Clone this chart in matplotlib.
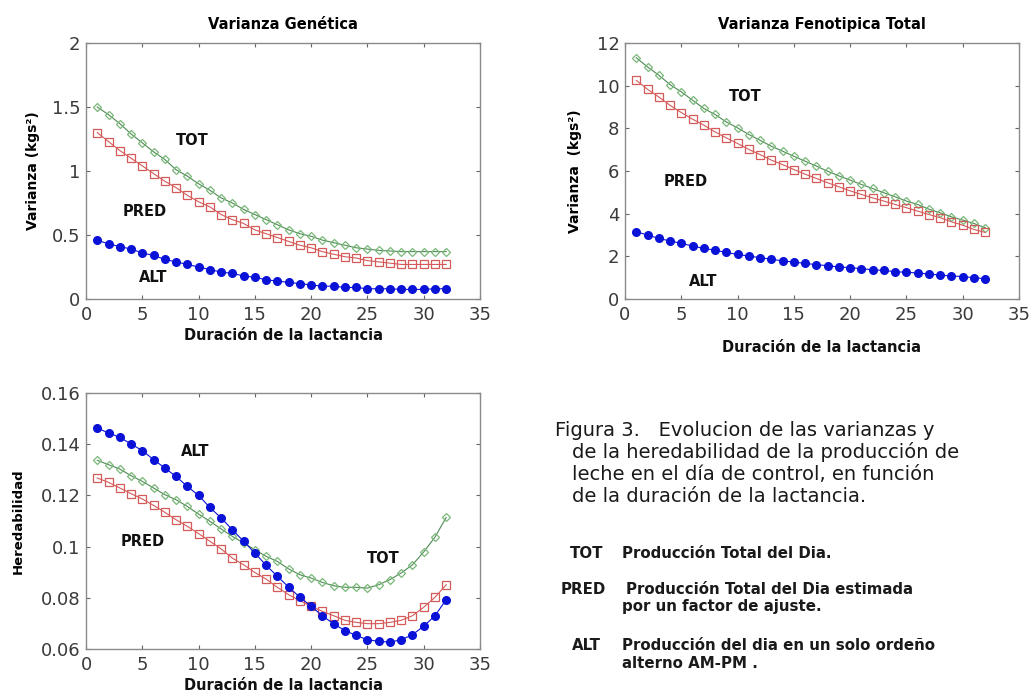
import matplotlib
matplotlib.use("Agg")
import matplotlib.pyplot as plt
from matplotlib.ticker import FuncFormatter, MultipleLocator

plt.rcParams['font.family'] = ['DejaVu Sans']

dias = list(range(1, 33))

# Varianza Genetica
gen_tot = [1.50, 1.44, 1.37, 1.29, 1.22, 1.15, 1.09, 1.01, 0.96, 0.90, 0.85, 0.79, 0.75, 0.70,
           0.66, 0.62, 0.58, 0.54, 0.51, 0.49, 0.46, 0.44, 0.42, 0.40, 0.39, 0.38, 0.375, 0.37,
           0.37, 0.37, 0.37, 0.37]
gen_pred = [1.30, 1.23, 1.16, 1.10, 1.04, 0.98, 0.92, 0.87, 0.81, 0.76, 0.72, 0.66, 0.62, 0.59,
            0.54, 0.51, 0.48, 0.45, 0.42, 0.40, 0.37, 0.35, 0.33, 0.32, 0.30, 0.29, 0.28, 0.27,
            0.27, 0.27, 0.27, 0.27]
gen_alt = [0.46, 0.43, 0.41, 0.39, 0.36, 0.34, 0.31, 0.29, 0.27, 0.25, 0.23, 0.21, 0.20, 0.18,
           0.17, 0.15, 0.14, 0.13, 0.12, 0.11, 0.10, 0.10, 0.09, 0.09, 0.08, 0.08, 0.08, 0.075,
           0.075, 0.075, 0.08, 0.08]

# Varianza Fenotipica Total
fen_tot = [11.31, 10.88, 10.49, 10.05, 9.71, 9.32, 8.93, 8.65, 8.30, 8.02, 7.71, 7.44, 7.16, 6.93,
           6.69, 6.46, 6.23, 5.99, 5.77, 5.57, 5.37, 5.18, 4.98, 4.79, 4.59, 4.43, 4.21, 4.04,
           3.85, 3.70, 3.54, 3.34]
fen_pred = [10.25, 9.83, 9.47, 9.08, 8.74, 8.43, 8.15, 7.83, 7.55, 7.29, 7.01, 6.77, 6.51, 6.30,
            6.07, 5.85, 5.65, 5.45, 5.26, 5.07, 4.90, 4.74, 4.59, 4.43, 4.28, 4.12, 3.96, 3.81,
            3.62, 3.46, 3.26, 3.12]
fen_alt = [3.15, 3.00, 2.84, 2.72, 2.61, 2.48, 2.37, 2.29, 2.18, 2.09, 2.01, 1.94, 1.86, 1.79,
           1.73, 1.67, 1.61, 1.56, 1.50, 1.47, 1.42, 1.37, 1.34, 1.28, 1.25, 1.22, 1.17, 1.12,
           1.08, 1.05, 1.00, 0.95]

# Heredabilidad
her_tot = [0.1337, 0.1320, 0.1303, 0.1277, 0.1255, 0.1229, 0.1203, 0.1183, 0.1157, 0.1127,
           0.1099, 0.1069, 0.1040, 0.1014, 0.0988, 0.0962, 0.0942, 0.0913, 0.0890, 0.0877,
           0.0860, 0.0847, 0.0841, 0.0841, 0.0838, 0.0851, 0.0871, 0.0897, 0.0929, 0.0979,
           0.1037, 0.1114]
her_pred = [0.1268, 0.1251, 0.1229, 0.1207, 0.1186, 0.1161, 0.1134, 0.1105, 0.1079, 0.1051,
            0.1021, 0.0991, 0.0955, 0.0929, 0.0899, 0.0873, 0.0841, 0.0812, 0.0789, 0.0767,
            0.0747, 0.0730, 0.0712, 0.0704, 0.0699, 0.0699, 0.0704, 0.0712, 0.0730, 0.0763,
            0.0802, 0.0851]
her_alt = [0.1463, 0.1444, 0.1427, 0.1401, 0.1375, 0.1340, 0.1307, 0.1274, 0.1235, 0.1200,
           0.1153, 0.1112, 0.1066, 0.1021, 0.0975, 0.0927, 0.0884, 0.0842, 0.0802, 0.0767,
           0.0730, 0.0698, 0.0672, 0.0653, 0.0636, 0.0630, 0.0627, 0.0636, 0.0656, 0.0689,
           0.0730, 0.0793]

W, H = 1030, 692
fig = plt.figure(figsize=(W / 100, H / 100), dpi=100)


def add_ax(x0, y0, x1, y1):
    return fig.add_axes([x0 / W, 1 - y1 / H, (x1 - x0) / W, (y1 - y0) / H])


GREEN_LINE = '#4f8a55'
GREEN = '#78b878'
RED = '#d55a5a'
BLUE = '#0a12d8'


def style(ax, ymin, ymax, ystep):
    ax.set_xlim(0, 35)
    ax.set_ylim(ymin, ymax)
    ax.xaxis.set_major_locator(MultipleLocator(5))
    ax.yaxis.set_major_locator(MultipleLocator(ystep))
    fmt = FuncFormatter(lambda v, p: ('%g' % round(v, 4)))
    ax.xaxis.set_major_formatter(fmt)
    ax.yaxis.set_major_formatter(fmt)
    ax.tick_params(direction='in', top=True, right=True, length=3, width=0.8,
                   color='#666666', labelsize=13, labelcolor='#3a3a3a')
    ax.tick_params(axis='x', pad=5)
    ax.tick_params(axis='y', pad=4)
    for s in ax.spines.values():
        s.set_color('#8a8a8a')
        s.set_linewidth(1.0)


def plot_series(ax, tot, pred, alt):
    ax.plot(dias, tot, '-', color=GREEN_LINE, lw=0.8, marker='D', ms=4,
            mfc='none', mec=GREEN, mew=0.9)
    ax.plot(dias, pred, '-', color=RED, lw=0.8, marker='s', ms=5.5,
            mfc='none', mec=RED, mew=0.9)
    ax.plot(dias, alt, '-', color=BLUE, lw=0.8, marker='o', ms=5.5,
            mfc=BLUE, mec=BLUE)


lab = dict(fontsize=10.5, fontweight='bold', ha='center', va='center', color='#111111')
axlab = dict(fontsize=10.5, fontweight='bold', color='#111111')

# Panel 1
ax1 = add_ax(86, 43, 480, 299)
plot_series(ax1, gen_tot, gen_pred, gen_alt)
style(ax1, 0, 2, 0.5)
ax1.set_title('Varianza Genética', fontsize=10.5, fontweight='bold', pad=10)
ax1.set_xlabel('Duración de la lactancia', **axlab)
ax1.set_ylabel('Varianza (kgs²)', fontsize=10, fontweight='bold')
ax1.xaxis.set_label_coords(0.5, -0.113)
ax1.yaxis.set_label_coords(-0.117, 0.5)
ax1.text(9.4, 1.24, 'TOT', **lab)
ax1.text(5.2, 0.68, 'PRED', **lab)
ax1.text(6.0, 0.17, 'ALT', **lab)

# Panel 2
ax2 = add_ax(625, 43, 1019, 299)
plot_series(ax2, fen_tot, fen_pred, fen_alt)
style(ax2, 0, 12, 2)
ax2.set_title('Varianza Fenotipica Total', fontsize=10.5, fontweight='bold', pad=10)
ax2.set_xlabel('Duración de la lactancia', **axlab)
ax2.set_ylabel('Varianza  (kgs²)', fontsize=10, fontweight='bold')
ax2.xaxis.set_label_coords(0.5, -0.16)
ax2.yaxis.set_label_coords(-0.109, 0.5)
ax2.text(10.7, 9.47, 'TOT', **lab)
ax2.text(5.4, 5.5, 'PRED', **lab)
ax2.text(6.9, 0.84, 'ALT', **lab)

# Panel 3
ax3 = add_ax(86, 393, 480, 649)
plot_series(ax3, her_tot, her_pred, her_alt)
style(ax3, 0.06, 0.16, 0.02)
ax3.set_xlabel('Duración de la lactancia', **axlab)
ax3.set_ylabel('Heredabilidad', fontsize=9.5, fontweight='bold')
ax3.xaxis.set_label_coords(0.5, -0.113)
ax3.yaxis.set_label_coords(-0.155, 0.5)
ax3.text(9.7, 0.137, 'ALT', **lab)
ax3.text(5.0, 0.1018, 'PRED', **lab)
ax3.text(26.4, 0.0952, 'TOT', **lab)

# Caption
cap = dict(fontsize=14, color='#1a1a1a', ha='left', va='center')
fig.text(555 / W, 1 - 430 / H, 'Figura 3.   Evolucion de las varianzas y', **cap)
fig.text(572 / W, 1 - 452 / H, 'de la heredabilidad de la producción de', **cap)
fig.text(572 / W, 1 - 474 / H, 'leche en el día de control, en función', **cap)
fig.text(572 / W, 1 - 496 / H, 'de la duración de la lactancia.', **cap)

leg = dict(fontsize=10.8, fontweight='bold', color='#1a1a1a', ha='left', va='center')
fig.text(570 / W, 1 - 553 / H, 'TOT', **leg)
fig.text(622 / W, 1 - 553 / H, 'Producción Total del Dia.', **leg)
fig.text(561 / W, 1 - 589 / H, 'PRED', **leg)
fig.text(626 / W, 1 - 589 / H, 'Producción Total del Dia estimada', **leg)
fig.text(622 / W, 1 - 607 / H, 'por un factor de ajuste.', **leg)
fig.text(572 / W, 1 - 645 / H, 'ALT', **leg)
fig.text(622 / W, 1 - 645 / H, 'Producción del dia en un solo ordeño', **leg)
fig.text(622 / W, 1 - 663 / H, 'alterno AM-PM .', **leg)

fig.savefig('out.png', dpi=100)
